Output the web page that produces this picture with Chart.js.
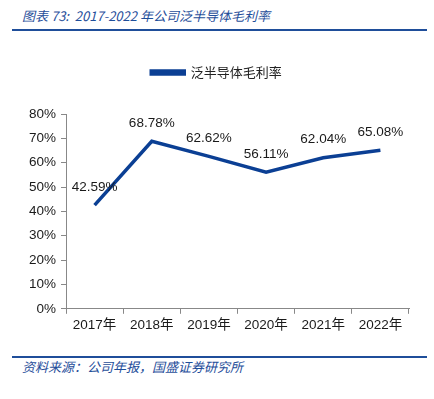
<!DOCTYPE html>
<html>
<head>
<meta charset="utf-8">
<script src="https://cdn.jsdelivr.net/npm/chart.js@4/dist/chart.umd.min.js"></script>
<style>
	body { margin: 0; background: #fff; width: 434px; height: 399px; position: relative; overflow: hidden; }
	.title { position: absolute; left: 22px; top: 6px; font: italic 13px "Noto Sans CJK SC", sans-serif; color: #1f4e9a; white-space: pre; }
	.rule { position: absolute; left: 12px; width: 415px; background: #1f4e9a; }
	.source { position: absolute; left: 22px; top: 357px; font: italic 13px "Noto Sans CJK SC", sans-serif; color: #1f4e9a; }
	#box { position: absolute; left: 0; top: 40px; width: 434px; height: 310px; }
</style>
</head>
<body>
<div class="title">图表 73:  2017-2022 年公司泛半导体毛利率</div>
<div class="rule" style="top:29px;height:2px"></div>
<div id="box"><canvas id="chart"></canvas></div>
<div class="rule" style="top:356px;height:2px"></div>
<div class="source">资料来源：公司年报，国盛证券研究所</div>
<script>
// données
const years = ["2017年", "2018年", "2019年", "2020年", "2021年", "2022年"]
const grossMargin = [42.59, 68.78, 62.62, 56.11, 62.04, 65.08]
const seriesName = "泛半导体毛利率"
const lineColor = "#0b3f94"

const tickFont = { family: "'Liberation Sans', 'Noto Sans CJK SC', sans-serif", size: 13.5 }

// étiquettes de valeur au-dessus des points
const valueLabels = {
	id: "valueLabels",
	afterDatasetsDraw(chart) {
		const ctx = chart.ctx
		const meta = chart.getDatasetMeta(0)
		ctx.save()
		ctx.font = "13.5px 'Liberation Sans', sans-serif"
		ctx.fillStyle = "#1a1a1a"
		ctx.textAlign = "center"
		ctx.textBaseline = "middle"
		meta.data.forEach((pt, i) => {
			ctx.fillText(grossMargin[i].toFixed(2) + "%", pt.x, pt.y - 18)
		})
		ctx.restore()
	}
}

// un peu plus d'espace sous la légende
const legendGap = {
	id: "legendGap",
	beforeInit(chart) {
		const fit = chart.legend.fit
		chart.legend.fit = function() {
			fit.bind(chart.legend)()
			this.height += 25
		}
	}
}

new Chart(document.getElementById("chart"), {
	type: "line",
	data: {
		labels: years,
		datasets: [{
			label: seriesName,
			data: grossMargin,
			borderColor: lineColor,
			backgroundColor: lineColor,
			borderWidth: 3.5,
			pointRadius: 0,
			tension: 0
		}]
	},
	options: {
		responsive: true,
		maintainAspectRatio: false,
		animation: false,
		layout: { padding: { left: 24, right: 25, top: 0, bottom: 14 } },
		plugins: {
			tooltip: { enabled: false },
			legend: {
				position: "top",
				labels: {
					boxWidth: 33,
					boxHeight: 3,
					padding: 26,
					color: "#222",
					font: { family: "'Noto Sans CJK SC', sans-serif", size: 13 }
				}
			}
		},
		scales: {
			x: {
				offset: true,
				grid: { display: true, offset: true, drawOnChartArea: false, tickLength: 5, color: "#888" },
				border: { color: "#888" },
				ticks: { color: "#1a1a1a", font: tickFont, padding: 3 }
			},
			y: {
				min: 0,
				max: 80,
				grid: { display: true, drawOnChartArea: false, tickLength: 5, color: "#888" },
				border: { color: "#888" },
				ticks: {
					stepSize: 10,
					color: "#1a1a1a",
					font: tickFont,
					padding: 5,
					callback: v => v + "%"
				}
			}
		}
	},
	plugins: [valueLabels, legendGap]
})
</script>
</body>
</html>
